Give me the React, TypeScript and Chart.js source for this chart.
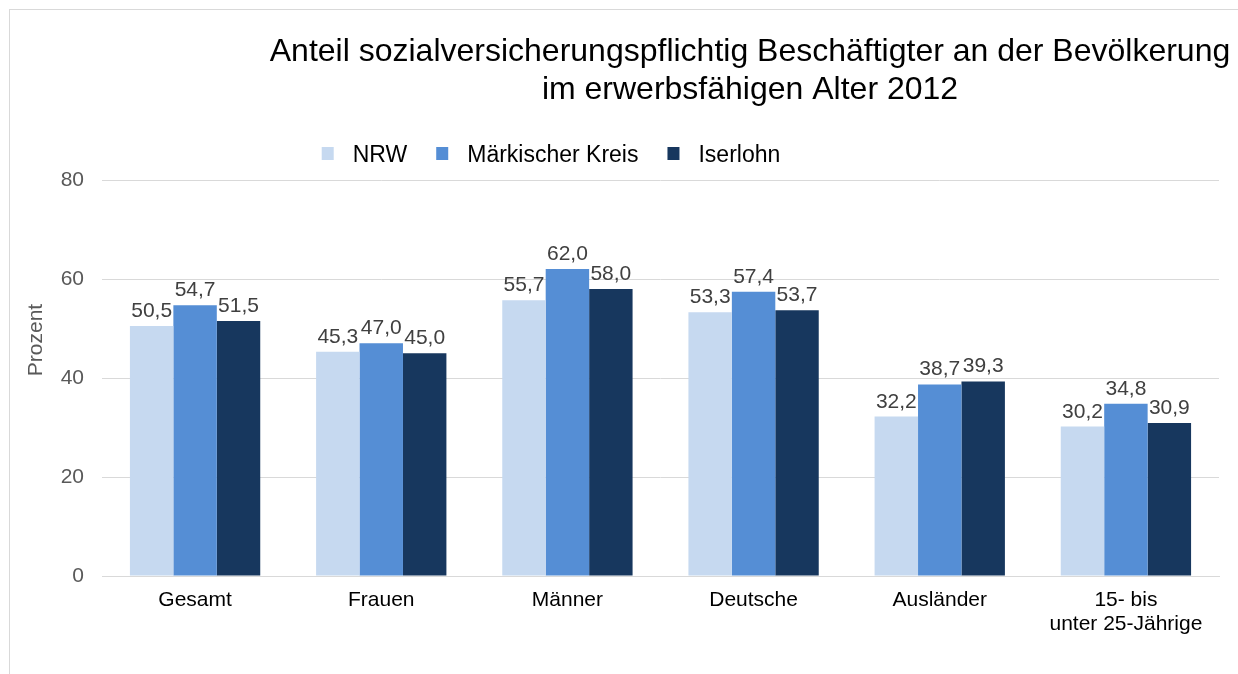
import React, { useEffect, useRef } from "react";
import { Chart, registerables } from "chart.js";

Chart.register(...registerables);

const categories: (string | string[])[] = [
  "Gesamt",
  "Frauen",
  "Männer",
  "Deutsche",
  "Ausländer",
  ["15- bis", "unter 25-Jährige"],
];
const seriesNames = ["NRW", "Märkischer Kreis", "Iserlohn"];
const nrwValues = [50.5, 45.3, 55.7, 53.3, 32.2, 30.2];
const mkValues = [54.7, 47.0, 62.0, 57.4, 38.7, 34.8];
const iserlohnValues = [51.5, 45.0, 58.0, 53.7, 39.3, 30.9];
const yMin = 0;
const yMax = 80;
const yStep = 20;
const titleLines = [
  "Anteil sozialversicherungspflichtig Beschäftigter an der Bevölkerung",
  "im erwerbsfähigen Alter 2012",
];
const yAxisTitle = "Prozent";
const seriesColors = ["#C6D9F0", "#558ED5", "#17375E"];

const FONT = "'Liberation Sans', Arial, Helvetica, sans-serif";

const decorPlugin = {
  id: "decor",
  afterDatasetsDraw(chart: any) {
    const ctx: CanvasRenderingContext2D = chart.ctx;
    ctx.save();

    // data labels
    ctx.font = `21px ${FONT}`;
    ctx.fillStyle = "#404040";
    ctx.textAlign = "center";
    ctx.textBaseline = "alphabetic";
    chart.data.datasets.forEach((ds: any, i: number) => {
      const meta = chart.getDatasetMeta(i);
      meta.data.forEach((el: any, j: number) => {
        const v = ds.data[j] as number;
        ctx.fillText(v.toFixed(1).replace(".", ","), el.x, el.y - 9);
      });
    });

    // title
    ctx.fillStyle = "#000000";
    ctx.font = `32px ${FONT}`;
    ctx.textAlign = "center";
    titleLines.forEach((t, k) => ctx.fillText(t, 750, 61 + k * 37.5));

    // legend
    ctx.font = `23px ${FONT}`;
    const boxW = 12;
    const boxH = 13;
    const boxGap = 19;
    const itemGap = 29;
    const widths = chart.data.datasets.map(
      (ds: any) => boxW + boxGap + ctx.measureText(ds.label).width
    );
    const total =
      widths.reduce((a: number, b: number) => a + b, 0) +
      itemGap * (widths.length - 1);
    let x = 551 - total / 2;
    ctx.textAlign = "left";
    chart.data.datasets.forEach((ds: any, i: number) => {
      ctx.fillStyle = ds.backgroundColor;
      ctx.fillRect(x, 147, boxW, boxH);
      ctx.fillStyle = "#000000";
      ctx.fillText(ds.label, x + boxW + boxGap, 161.5);
      x += widths[i] + itemGap;
    });

    // y axis title
    ctx.translate(36, 340);
    ctx.rotate(-Math.PI / 2);
    ctx.font = `21px ${FONT}`;
    ctx.fillStyle = "#595959";
    ctx.textAlign = "center";
    ctx.textBaseline = "middle";
    ctx.fillText(yAxisTitle, 0, 0);

    ctx.restore();
  },
};

export default function App() {
  const canvasRef = useRef<HTMLCanvasElement | null>(null);

  useEffect(() => {
    const canvas = canvasRef.current;
    if (!canvas) return;
    const seriesValues = [nrwValues, mkValues, iserlohnValues];
    const chart = new Chart(canvas, {
      type: "bar",
      data: {
        labels: categories,
        datasets: seriesNames.map((name, i) => ({
          label: name,
          data: seriesValues[i],
          backgroundColor: seriesColors[i],
          borderWidth: 0,
          categoryPercentage: 0.7,
          barPercentage: 1.0,
        })),
      },
      options: {
        responsive: false,
        animation: false,
        devicePixelRatio: 1,
        layout: { padding: { left: 0, right: 19, top: 180, bottom: 0 } },
        plugins: {
          legend: { display: false },
          title: { display: false },
          tooltip: { enabled: false },
        },
        scales: {
          x: {
            grid: { display: false, drawTicks: false },
            border: { display: true, color: "#D9D9D9", width: 1 },
            ticks: {
              color: "#000000",
              font: { family: FONT, size: 21, lineHeight: 1.15 },
              padding: 12,
              maxRotation: 0,
              autoSkip: false,
            },
            afterFit(scale: any) {
              scale.height = 98;
            },
          },
          y: {
            min: yMin,
            max: yMax,
            grid: { color: "#D9D9D9", lineWidth: 1, drawTicks: false },
            border: { display: false },
            ticks: {
              stepSize: yStep,
              color: "#595959",
              font: { family: FONT, size: 21 },
              padding: 18,
            },
            afterFit(scale: any) {
              scale.width = 102;
            },
          },
        },
      },
      plugins: [decorPlugin],
    } as any);
    return () => chart.destroy();
  }, []);

  return (
    <div
      style={{
        position: "fixed",
        left: 0,
        top: 0,
        width: 1238,
        height: 674,
        overflow: "hidden",
        background: "#FFFFFF",
      }}
    >
      <div
        style={{
          position: "absolute",
          left: 9,
          top: 9,
          width: 1300,
          height: 700,
          border: "1px solid #D9D9D9",
        }}
      />
      <canvas
        ref={canvasRef}
        width={1238}
        height={674}
        style={{ position: "absolute", left: 0, top: 0, width: 1238, height: 674 }}
      />
    </div>
  );
}
